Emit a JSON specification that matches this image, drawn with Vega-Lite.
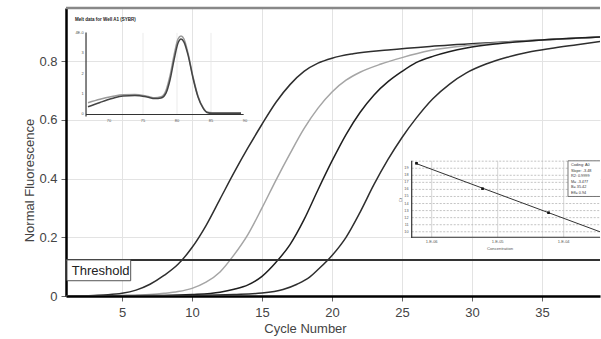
{
  "$schema": "https://vega.github.io/schema/vega-lite/v6.json",
  "width": 534,
  "height": 288,
  "autosize": {"type": "none"},
  "padding": {"left": 66, "top": 8, "right": 1, "bottom": 43},
  "background": "white",
  "config": {
    "view": {"stroke": null},
    "font": "Liberation Sans",
    "axis": {"labelFont": "Liberation Sans", "titleFont": "Liberation Sans"},
    "text": {"font": "Liberation Sans"}
  },
  "datasets": {
    "amp": [
      {"well": "A1", "cycle": 1, "fluor": 0.0}, {"well": "A1", "cycle": 3, "fluor": 0.002}, {"well": "A1", "cycle": 4, "fluor": 0.004}, {"well": "A1", "cycle": 5, "fluor": 0.009}, {"well": "A1", "cycle": 6, "fluor": 0.02}, {"well": "A1", "cycle": 7, "fluor": 0.04}, {"well": "A1", "cycle": 8, "fluor": 0.07}, {"well": "A1", "cycle": 9, "fluor": 0.108}, {"well": "A1", "cycle": 10, "fluor": 0.165}, {"well": "A1", "cycle": 11, "fluor": 0.24}, {"well": "A1", "cycle": 12, "fluor": 0.33}, {"well": "A1", "cycle": 13, "fluor": 0.42}, {"well": "A1", "cycle": 14, "fluor": 0.505}, {"well": "A1", "cycle": 15, "fluor": 0.585}, {"well": "A1", "cycle": 16, "fluor": 0.66}, {"well": "A1", "cycle": 17, "fluor": 0.72}, {"well": "A1", "cycle": 18, "fluor": 0.765}, {"well": "A1", "cycle": 19, "fluor": 0.793}, {"well": "A1", "cycle": 20, "fluor": 0.81}, {"well": "A1", "cycle": 21.5, "fluor": 0.825}, {"well": "A1", "cycle": 24, "fluor": 0.838}, {"well": "A1", "cycle": 27, "fluor": 0.85}, {"well": "A1", "cycle": 30.6, "fluor": 0.861}, {"well": "A1", "cycle": 35, "fluor": 0.872}, {"well": "A1", "cycle": 39.14, "fluor": 0.882},
      {"well": "A2", "cycle": 1, "fluor": 0.0}, {"well": "A2", "cycle": 5, "fluor": 0.002}, {"well": "A2", "cycle": 7, "fluor": 0.005}, {"well": "A2", "cycle": 8, "fluor": 0.009}, {"well": "A2", "cycle": 9, "fluor": 0.015}, {"well": "A2", "cycle": 10, "fluor": 0.026}, {"well": "A2", "cycle": 11, "fluor": 0.047}, {"well": "A2", "cycle": 12, "fluor": 0.082}, {"well": "A2", "cycle": 13, "fluor": 0.14}, {"well": "A2", "cycle": 14, "fluor": 0.21}, {"well": "A2", "cycle": 15, "fluor": 0.3}, {"well": "A2", "cycle": 16, "fluor": 0.395}, {"well": "A2", "cycle": 17, "fluor": 0.485}, {"well": "A2", "cycle": 18, "fluor": 0.57}, {"well": "A2", "cycle": 19, "fluor": 0.64}, {"well": "A2", "cycle": 20, "fluor": 0.695}, {"well": "A2", "cycle": 21, "fluor": 0.735}, {"well": "A2", "cycle": 22, "fluor": 0.762}, {"well": "A2", "cycle": 23.5, "fluor": 0.79}, {"well": "A2", "cycle": 25, "fluor": 0.812}, {"well": "A2", "cycle": 27, "fluor": 0.836}, {"well": "A2", "cycle": 30, "fluor": 0.855}, {"well": "A2", "cycle": 35, "fluor": 0.872}, {"well": "A2", "cycle": 39.14, "fluor": 0.882},
      {"well": "A3", "cycle": 1, "fluor": 0.0}, {"well": "A3", "cycle": 8, "fluor": 0.002}, {"well": "A3", "cycle": 10, "fluor": 0.005}, {"well": "A3", "cycle": 12, "fluor": 0.013}, {"well": "A3", "cycle": 13, "fluor": 0.023}, {"well": "A3", "cycle": 14, "fluor": 0.038}, {"well": "A3", "cycle": 15, "fluor": 0.067}, {"well": "A3", "cycle": 16, "fluor": 0.115}, {"well": "A3", "cycle": 17, "fluor": 0.175}, {"well": "A3", "cycle": 18, "fluor": 0.26}, {"well": "A3", "cycle": 19, "fluor": 0.362}, {"well": "A3", "cycle": 20, "fluor": 0.46}, {"well": "A3", "cycle": 21, "fluor": 0.55}, {"well": "A3", "cycle": 22, "fluor": 0.625}, {"well": "A3", "cycle": 23, "fluor": 0.685}, {"well": "A3", "cycle": 24, "fluor": 0.73}, {"well": "A3", "cycle": 25, "fluor": 0.765}, {"well": "A3", "cycle": 26, "fluor": 0.795}, {"well": "A3", "cycle": 27.3, "fluor": 0.818}, {"well": "A3", "cycle": 29.6, "fluor": 0.845}, {"well": "A3", "cycle": 32, "fluor": 0.86}, {"well": "A3", "cycle": 35, "fluor": 0.872}, {"well": "A3", "cycle": 39.14, "fluor": 0.882},
      {"well": "A4", "cycle": 1, "fluor": 0.0}, {"well": "A4", "cycle": 10, "fluor": 0.002}, {"well": "A4", "cycle": 13, "fluor": 0.005}, {"well": "A4", "cycle": 15, "fluor": 0.01}, {"well": "A4", "cycle": 16.5, "fluor": 0.022}, {"well": "A4", "cycle": 17.5, "fluor": 0.04}, {"well": "A4", "cycle": 18.4, "fluor": 0.064}, {"well": "A4", "cycle": 19, "fluor": 0.09}, {"well": "A4", "cycle": 20, "fluor": 0.138}, {"well": "A4", "cycle": 21, "fluor": 0.2}, {"well": "A4", "cycle": 22, "fluor": 0.285}, {"well": "A4", "cycle": 23, "fluor": 0.38}, {"well": "A4", "cycle": 24, "fluor": 0.465}, {"well": "A4", "cycle": 25, "fluor": 0.54}, {"well": "A4", "cycle": 26, "fluor": 0.605}, {"well": "A4", "cycle": 27.2, "fluor": 0.672}, {"well": "A4", "cycle": 28.4, "fluor": 0.722}, {"well": "A4", "cycle": 29.6, "fluor": 0.76}, {"well": "A4", "cycle": 31, "fluor": 0.79}, {"well": "A4", "cycle": 32.5, "fluor": 0.813}, {"well": "A4", "cycle": 34, "fluor": 0.83}, {"well": "A4", "cycle": 35.6, "fluor": 0.843}, {"well": "A4", "cycle": 37.5, "fluor": 0.856}, {"well": "A4", "cycle": 39.14, "fluor": 0.867}
    ],
    "melt": [
      {"run": "b", "temp": 66.91, "dfdt": 0.058}, {"run": "b", "temp": 68.68, "dfdt": 0.075}, {"run": "b", "temp": 70.44, "dfdt": 0.088}, {"run": "b", "temp": 72.06, "dfdt": 0.097}, {"run": "b", "temp": 73.82, "dfdt": 0.098}, {"run": "b", "temp": 75.59, "dfdt": 0.09}, {"run": "b", "temp": 76.76, "dfdt": 0.082}, {"run": "b", "temp": 77.65, "dfdt": 0.087}, {"run": "b", "temp": 78.38, "dfdt": 0.118}, {"run": "b", "temp": 78.97, "dfdt": 0.19}, {"run": "b", "temp": 79.56, "dfdt": 0.29}, {"run": "b", "temp": 80.15, "dfdt": 0.37}, {"run": "b", "temp": 80.59, "dfdt": 0.385}, {"run": "b", "temp": 81.03, "dfdt": 0.37}, {"run": "b", "temp": 81.62, "dfdt": 0.3}, {"run": "b", "temp": 82.35, "dfdt": 0.185}, {"run": "b", "temp": 83.09, "dfdt": 0.09}, {"run": "b", "temp": 83.82, "dfdt": 0.035}, {"run": "b", "temp": 84.41, "dfdt": 0.012}, {"run": "b", "temp": 85.15, "dfdt": 0.008}, {"run": "b", "temp": 87.06, "dfdt": 0.008}, {"run": "b", "temp": 89.41, "dfdt": 0.008},
      {"run": "a", "temp": 66.91, "dfdt": 0.038}, {"run": "a", "temp": 68.68, "dfdt": 0.059}, {"run": "a", "temp": 70.44, "dfdt": 0.078}, {"run": "a", "temp": 72.06, "dfdt": 0.091}, {"run": "a", "temp": 73.82, "dfdt": 0.093}, {"run": "a", "temp": 75.59, "dfdt": 0.086}, {"run": "a", "temp": 76.76, "dfdt": 0.078}, {"run": "a", "temp": 77.65, "dfdt": 0.081}, {"run": "a", "temp": 78.38, "dfdt": 0.105}, {"run": "a", "temp": 78.97, "dfdt": 0.169}, {"run": "a", "temp": 79.56, "dfdt": 0.267}, {"run": "a", "temp": 80.15, "dfdt": 0.35}, {"run": "a", "temp": 80.59, "dfdt": 0.37}, {"run": "a", "temp": 81.03, "dfdt": 0.355}, {"run": "a", "temp": 81.62, "dfdt": 0.292}, {"run": "a", "temp": 82.35, "dfdt": 0.179}, {"run": "a", "temp": 83.09, "dfdt": 0.086}, {"run": "a", "temp": 83.82, "dfdt": 0.032}, {"run": "a", "temp": 84.41, "dfdt": 0.01}, {"run": "a", "temp": 85.15, "dfdt": 0.006}, {"run": "a", "temp": 87.06, "dfdt": 0.006}, {"run": "a", "temp": 89.41, "dfdt": 0.006}
    ],
    "std": [
      {"logc": -6.23, "ct": 19.7}, {"logc": -5.23, "ct": 16.1}, {"logc": -4.23, "ct": 12.7}, {"logc": -3.23, "ct": 9.26}
    ],
    "one": [{}]
  },
  "layer": [
    {
      "layer": [
        {
          "data": {"name": "amp"},
          "mark": {"type": "line", "interpolate": "monotone", "clip": true, "strokeWidth": 1.5},
          "encoding": {
            "x": {
              "field": "cycle", "type": "quantitative",
              "scale": {"domain": [1, 39.14], "nice": false, "zero": false},
              "axis": {
                "title": "Cycle Number", "values": [5, 10, 15, 20, 25, 30, 35],
                "grid": true, "gridColor": "#e3e3e3", "gridWidth": 1,
                "domainColor": "#000", "domainWidth": 2.5,
                "tickColor": "#666", "tickSize": 5, "tickWidth": 1,
                "labelFontSize": 13, "labelColor": "#444", "labelPadding": 5,
                "titleFontSize": 13, "titleColor": "#444", "titleFontWeight": "normal",
                "titleX": 239, "titleY": 32, "titleBaseline": "middle", "titleAlign": "center"
              }
            },
            "y": {
              "field": "fluor", "type": "quantitative",
              "scale": {"domain": [0, 0.981], "nice": false},
              "axis": {
                "title": "Normal Fluorescence", "values": [0, 0.2, 0.4, 0.6, 0.8], "format": "~g",
                "grid": true, "gridColor": "#e3e3e3", "gridWidth": 1,
                "domainColor": "#000", "domainWidth": 2.5,
                "tickColor": "#666", "tickSize": 5, "tickWidth": 1,
                "labelFontSize": 13, "labelColor": "#444", "labelPadding": 4,
                "titleFontSize": 13, "titleColor": "#444", "titleFontWeight": "normal",
                "titleX": -37, "titleY": 172, "titleAngle": -90, "titleBaseline": "middle", "titleAlign": "center"
              }
            },
            "color": {
              "field": "well", "type": "nominal",
              "scale": {"domain": ["A1", "A2", "A3", "A4"], "range": ["#2e2e2e", "#a5a5a5", "#1f1f1f", "#2e2e2e"]},
              "legend": null
            }
          }
        },
        {
          "data": {"name": "one"},
          "mark": {"type": "rule", "color": "#333", "strokeWidth": 2},
          "encoding": {"y": {"datum": 0.123, "scale": {"domain": [0, 0.981], "nice": false}}}
        },
        {
          "data": {"name": "one"},
          "mark": {"type": "rect", "fill": "white", "stroke": "#555", "strokeWidth": 1},
          "encoding": {
            "x": {"datum": 1.07, "scale": {"domain": [1, 39.14], "nice": false, "zero": false}},
            "x2": {"datum": 5.62},
            "y": {"datum": 0.123, "scale": {"domain": [0, 0.981], "nice": false}},
            "y2": {"datum": 0.052}
          }
        },
        {
          "data": {"name": "one"},
          "mark": {"type": "text", "text": "Threshold", "fontSize": 13, "color": "#222", "align": "left", "baseline": "middle"},
          "encoding": {
            "x": {"datum": 1.41, "scale": {"domain": [1, 39.14], "nice": false, "zero": false}},
            "y": {"datum": 0.086, "scale": {"domain": [0, 0.981], "nice": false}}
          }
        },
        {
          "data": {"name": "one"},
          "mark": {"type": "rule", "color": "#888", "strokeWidth": 2.5},
          "encoding": {"y": {"datum": 0.981, "scale": {"domain": [0, 0.981], "nice": false}}}
        }
      ]
    },
    {
      "layer": [
        {
          "data": {"values": [{"t": 75}, {"t": 80}, {"t": 85}]},
          "mark": {"type": "rule", "color": "#e6e6e6", "strokeWidth": 0.8},
          "encoding": {
            "x": {"field": "t", "type": "quantitative", "scale": {"domain": [63.676, 142.206], "nice": false, "zero": false}, "axis": null},
            "y": {"datum": 0, "scale": {"domain": [-0.8897, 0.522], "nice": false, "zero": false}, "axis": null},
            "y2": {"datum": 0.4}
          }
        },
        {
          "data": {"name": "one"},
          "mark": {"type": "rule", "color": "#333", "strokeWidth": 1.2},
          "encoding": {
            "x": {"datum": 66.62, "scale": {"domain": [63.676, 142.206], "nice": false, "zero": false}, "axis": null},
            "y": {"datum": -0.01, "scale": {"domain": [-0.8897, 0.522], "nice": false, "zero": false}, "axis": null},
            "y2": {"datum": 0.402}
          }
        },
        {
          "data": {"name": "one"},
          "mark": {"type": "rule", "color": "#333", "strokeWidth": 1.2},
          "encoding": {
            "x": {"datum": 66.62, "scale": {"domain": [63.676, 142.206], "nice": false, "zero": false}, "axis": null},
            "x2": {"datum": 89.8},
            "y": {"datum": 0, "scale": {"domain": [-0.8897, 0.522], "nice": false, "zero": false}, "axis": null}
          }
        },
        {
          "data": {"values": [{"t": 70, "lab": "70"}, {"t": 75, "lab": "75"}, {"t": 80, "lab": "80"}, {"t": 85, "lab": "85"}, {"t": 90, "lab": "90"}]},
          "mark": {"type": "text", "fontSize": 4, "color": "#555", "baseline": "middle"},
          "encoding": {
            "x": {"field": "t", "type": "quantitative", "scale": {"domain": [63.676, 142.206], "nice": false, "zero": false}, "axis": null},
            "y": {"datum": -0.032, "scale": {"domain": [-0.8897, 0.522], "nice": false, "zero": false}, "axis": null},
            "text": {"field": "lab"}
          }
        },
        {
          "data": {"values": [{"v": 0, "lab": "0"}, {"v": 0.1, "lab": "1"}, {"v": 0.2, "lab": "2"}, {"v": 0.3, "lab": "3"}, {"v": 0.4, "lab": "4E-0"}]},
          "mark": {"type": "text", "fontSize": 4, "color": "#555", "align": "right", "baseline": "middle"},
          "encoding": {
            "x": {"datum": 66.3, "scale": {"domain": [63.676, 142.206], "nice": false, "zero": false}, "axis": null},
            "y": {"field": "v", "type": "quantitative", "scale": {"domain": [-0.8897, 0.522], "nice": false, "zero": false}, "axis": null},
            "text": {"field": "lab"}
          }
        },
        {
          "data": {"name": "melt"},
          "mark": {"type": "line", "interpolate": "monotone", "strokeWidth": 1.5},
          "encoding": {
            "x": {"field": "temp", "type": "quantitative", "scale": {"domain": [63.676, 142.206], "nice": false, "zero": false}, "axis": null},
            "y": {"field": "dfdt", "type": "quantitative", "scale": {"domain": [-0.8897, 0.522], "nice": false, "zero": false}, "axis": null},
            "color": {"field": "run", "type": "nominal", "scale": {"domain": ["a", "b"], "range": ["#444", "#9a9a9a"]}, "legend": null}
          }
        },
        {
          "data": {"name": "one"},
          "mark": {"type": "text", "text": "Melt data for Well A1 (SYBR)", "fontSize": 4.5, "fontWeight": "bold", "color": "#222", "align": "left", "baseline": "middle"},
          "encoding": {
            "x": {"datum": 65.0, "scale": {"domain": [63.676, 142.206], "nice": false, "zero": false}, "axis": null},
            "y": {"datum": 0.463, "scale": {"domain": [-0.8897, 0.522], "nice": false, "zero": false}, "axis": null}
          }
        }
      ]
    },
    {
      "layer": [
        {
          "data": {"values": [{"c": 10}, {"c": 11}, {"c": 12}, {"c": 13}, {"c": 14}, {"c": 15}, {"c": 16}, {"c": 17}, {"c": 18}, {"c": 19}, {"c": 20}]},
          "mark": {"type": "rule", "color": "#b5b5b5", "strokeWidth": 0.8, "strokeDash": [2, 1.5], "clip": true},
          "encoding": {
            "x": {"datum": -6.303, "scale": {"domain": [-11.541, -3.45], "nice": false, "zero": false}, "axis": null},
            "x2": {"datum": -3.45},
            "y": {"field": "c", "type": "quantitative", "scale": {"domain": [0.9, 41.7], "nice": false, "zero": false}, "axis": null}
          }
        },
        {
          "data": {"values": [{"l": -6}, {"l": -5}, {"l": -4}]},
          "mark": {"type": "rule", "color": "#c8c8c8", "strokeWidth": 0.8},
          "encoding": {
            "x": {"field": "l", "type": "quantitative", "scale": {"domain": [-11.541, -3.45], "nice": false, "zero": false}, "axis": null},
            "y": {"datum": 9.22, "scale": {"domain": [0.9, 41.7], "nice": false, "zero": false}, "axis": null},
            "y2": {"datum": 20.05}
          }
        },
        {
          "data": {"name": "one"},
          "mark": {"type": "rule", "color": "#333", "strokeWidth": 1.2},
          "encoding": {
            "x": {"datum": -6.303, "scale": {"domain": [-11.541, -3.45], "nice": false, "zero": false}, "axis": null},
            "y": {"datum": 9.1, "scale": {"domain": [0.9, 41.7], "nice": false, "zero": false}, "axis": null},
            "y2": {"datum": 20.05}
          }
        },
        {
          "data": {"name": "one"},
          "mark": {"type": "rule", "color": "#333", "strokeWidth": 1.2},
          "encoding": {
            "x": {"datum": -6.303, "scale": {"domain": [-11.541, -3.45], "nice": false, "zero": false}, "axis": null},
            "x2": {"datum": -3.45},
            "y": {"datum": 9.22, "scale": {"domain": [0.9, 41.7], "nice": false, "zero": false}, "axis": null}
          }
        },
        {
          "data": {"name": "std"},
          "transform": [{"regression": "ct", "on": "logc", "extent": [-6.25, -3.45]}],
          "mark": {"type": "line", "color": "#333", "strokeWidth": 1, "clip": true},
          "encoding": {
            "x": {"field": "logc", "type": "quantitative", "scale": {"domain": [-11.541, -3.45], "nice": false, "zero": false}, "axis": null},
            "y": {"field": "ct", "type": "quantitative", "scale": {"domain": [0.9, 41.7], "nice": false, "zero": false}, "axis": null}
          }
        },
        {
          "data": {"name": "std"},
          "mark": {"type": "point", "shape": "square", "filled": true, "color": "#111", "size": 7, "opacity": 1, "clip": true},
          "encoding": {
            "x": {"field": "logc", "type": "quantitative", "scale": {"domain": [-11.541, -3.45], "nice": false, "zero": false}, "axis": null},
            "y": {"field": "ct", "type": "quantitative", "scale": {"domain": [0.9, 41.7], "nice": false, "zero": false}, "axis": null}
          }
        },
        {
          "data": {"name": "one"},
          "mark": {"type": "rect", "fill": "white", "stroke": "#555", "strokeWidth": 0.8, "clip": true},
          "encoding": {
            "x": {"datum": -3.935, "scale": {"domain": [-11.541, -3.45], "nice": false, "zero": false}, "axis": null},
            "x2": {"datum": -3.3},
            "y": {"datum": 20.05, "scale": {"domain": [0.9, 41.7], "nice": false, "zero": false}, "axis": null},
            "y2": {"datum": 15.0}
          }
        },
        {
          "data": {"name": "one"},
          "mark": {"type": "text", "text": ["Coding: A0", "Slope: -3.48", "R2: 0.9999", "M= -3.477", "B= 35.42", "Eff= 0.94"], "lineHeight": 5.6, "fontSize": 3.8, "color": "#333", "align": "left", "baseline": "top"},
          "encoding": {
            "x": {"datum": -3.89, "scale": {"domain": [-11.541, -3.45], "nice": false, "zero": false}, "axis": null},
            "y": {"datum": 19.75, "scale": {"domain": [0.9, 41.7], "nice": false, "zero": false}, "axis": null}
          }
        },
        {
          "data": {"values": [{"c": 10, "lab": "10"}, {"c": 11, "lab": "11"}, {"c": 12, "lab": "12"}, {"c": 13, "lab": "13"}, {"c": 14, "lab": "14"}, {"c": 15, "lab": "15"}, {"c": 16, "lab": "16"}, {"c": 17, "lab": "17"}, {"c": 18, "lab": "18"}, {"c": 19, "lab": "19"}]},
          "mark": {"type": "text", "fontSize": 3.8, "color": "#555", "align": "right", "baseline": "middle"},
          "encoding": {
            "x": {"datum": -6.35, "scale": {"domain": [-11.541, -3.45], "nice": false, "zero": false}, "axis": null},
            "y": {"field": "c", "type": "quantitative", "scale": {"domain": [0.9, 41.7], "nice": false, "zero": false}, "axis": null},
            "text": {"field": "lab"}
          }
        },
        {
          "data": {"values": [{"l": -6, "lab": "1.E-06"}, {"l": -5, "lab": "1.E-05"}, {"l": -4, "lab": "1.E-04"}]},
          "mark": {"type": "text", "fontSize": 4, "color": "#555", "baseline": "middle"},
          "encoding": {
            "x": {"field": "l", "type": "quantitative", "scale": {"domain": [-11.541, -3.45], "nice": false, "zero": false}, "axis": null},
            "y": {"datum": 8.6, "scale": {"domain": [0.9, 41.7], "nice": false, "zero": false}, "axis": null},
            "text": {"field": "lab"}
          }
        },
        {
          "data": {"name": "one"},
          "mark": {"type": "text", "text": "Concentration", "fontSize": 4.2, "color": "#555", "baseline": "middle"},
          "encoding": {
            "x": {"datum": -4.965, "scale": {"domain": [-11.541, -3.45], "nice": false, "zero": false}, "axis": null},
            "y": {"datum": 7.56, "scale": {"domain": [0.9, 41.7], "nice": false, "zero": false}, "axis": null}
          }
        },
        {
          "data": {"name": "one"},
          "mark": {"type": "text", "text": "Ct", "fontSize": 4.2, "color": "#555", "baseline": "middle", "angle": 270},
          "encoding": {
            "x": {"datum": -6.46, "scale": {"domain": [-11.541, -3.45], "nice": false, "zero": false}, "axis": null},
            "y": {"datum": 14.5, "scale": {"domain": [0.9, 41.7], "nice": false, "zero": false}, "axis": null}
          }
        }
      ]
    }
  ],
  "resolve": {"scale": {"x": "independent", "y": "independent", "color": "independent"}}
}
